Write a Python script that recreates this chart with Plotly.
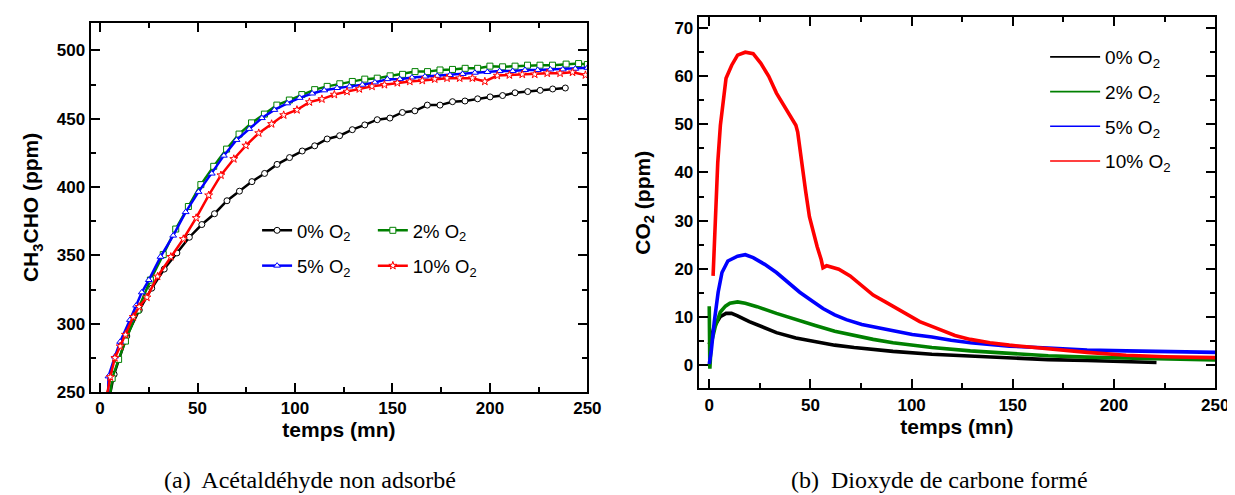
import plotly.graph_objects as go

# ---------------- Panel (a): CH3CHO (ppm) vs temps (mn) ----------------
t_a0 = [4.8, 7.2, 13.7, 20.1, 26.5, 32.9, 39.4, 45.8, 52.2, 58.7, 65.1, 71.5, 77.9, 84.4, 90.8, 97.2,
        103.7, 110.1, 116.5, 122.9, 129.4, 135.8, 142.2, 148.7, 155.1, 161.5, 167.9, 174.4, 180.8,
        187.2, 193.7, 200.1, 206.5, 212.9, 219.4, 225.8, 232.2, 238.7]
v_a0 = [246, 263, 291, 310, 326, 340, 351.8, 363.3, 372.6, 380.5, 390, 397, 404, 410, 416.6, 421.6,
        426.4, 430.2, 435.2, 437.6, 442, 445.5, 449.3, 450.5, 454.6, 455.8, 460, 460, 462.5,
        463, 464.6, 466, 467, 469, 469.9, 470.8, 471.8, 472.5]

t_a2 = [5.0, 6.2, 9.5, 13, 19.4, 25.8, 32.4, 38.8, 45.3, 51.7, 58.3, 64.9, 71.3, 77.7, 84.3, 90.7,
        97.1, 103.5, 110.1, 116.5, 123, 129.4, 135.8, 142.2, 148.8, 155.2, 161.6, 168, 174.4, 180.8,
        187.3, 193.7, 200, 206.5, 212.9, 219.3, 225.7, 232.1, 239.1, 245.5, 250]
v_a2 = [246, 260, 273.9, 287.3, 310, 332, 350.6, 369.3, 385.8, 401.8, 415.2, 427.8, 438.8, 447, 453.4, 460,
        463.7, 467.7, 471.3, 473.7, 475.6, 477.3, 479, 479.7, 481.4, 482.5, 484.5, 484.5, 485.7, 486.1,
        486.9, 486.9, 488.5, 488, 488.5, 489.2, 489.2, 489.2, 490, 490.4, 489.7]

t_a5 = [4.1, 4.3, 7.6, 10.3, 15.3, 18.5, 21.4, 25, 31, 37.5, 43.9, 50.5, 57.3, 63.5, 70, 76.5, 83,
        89.4, 96, 102.4, 108.8, 115, 121.6, 128, 134.6, 141, 147.4, 153.8, 160, 166.7, 173, 179.5,
        186, 192.3, 198.7, 205, 211.7, 218, 224.5, 231, 237.4, 243.8, 250]
v_a5 = [248, 261.5, 276, 286.8, 302.8, 313.3, 323, 332, 349, 364.5, 381.7, 396.5, 409.9, 423, 434.5,
        442.6, 450.5, 456.5, 461.3, 465.3, 468.5, 470.8, 472.5, 473.7, 474.9, 476.6, 479, 479, 480.2,
        480.9, 481.4, 482, 482.8, 483.7, 484.2, 484.9, 484.9, 485.7, 485.7, 486.1, 486.1, 486.6, 487.3]

t_a10 = [3.6, 5.2, 7.6, 10.3, 13, 17, 20, 24, 29.5, 36.3, 42.7, 49.3, 55.7, 62, 68.6, 74.8, 81.4, 88,
         94.2, 101, 107.4, 113.8, 120.2, 126.7, 133, 139.5, 145.9, 152.5, 158.9, 165.3, 171.7, 178,
         184.5, 191, 197.4, 203.8, 210, 216.6, 223, 229.4, 236, 242.4, 249]
v_a10 = [248, 261, 275, 283.5, 292, 305, 312.4, 319.3, 334.6, 349, 362, 377.4, 394, 408.7, 420.6, 430.4,
         439.5, 446.2, 452.7, 456.5, 462.2, 464.4, 467.7, 469.9, 471.8, 473.7, 474.9, 476.3, 477.3, 478,
         479, 479.7, 479.7, 479.7, 477.3, 481.6, 482, 482.5, 482.5, 483.3, 483.3, 484, 482]

# ---------------- Panel (b): CO2 (ppm) vs temps (mn) ----------------
t_b0 = [0, 2.5, 5.4, 8.3, 11, 14, 19.8, 25.5, 33.2, 42.8, 52.4, 62, 71.6, 90.8, 110, 129, 148.3,
        167.5, 186.7, 206, 221]
v_b0 = [4.3, 8, 10, 10.7, 10.7, 10.2, 9, 8, 6.7, 5.6, 4.8, 4.1, 3.6, 2.8, 2.2, 1.8, 1.4, 1.1, 0.9, 0.6, 0.5]

t_b2 = [0, 0.15, 0.3, 1.0, 3, 5.5, 8, 10.2, 14, 17.8, 23.6, 33.2, 42.8, 52.4, 62, 71.6, 81, 90.8,
        100.3, 110, 129, 148.3, 167.5, 186.7, 206, 225, 250]
v_b2 = [12.2, 3, -0.8, 4.5, 8, 11, 12.2, 12.8, 13.1, 12.8, 12.1, 10.7, 9.4, 8.2, 7, 6.1, 5.3, 4.6,
        4.1, 3.6, 2.9, 2.4, 1.9, 1.6, 1.4, 1.1, 1.0]

t_b5 = [0, 1, 2.5, 4.4, 6.3, 9.2, 14, 17.8, 21.7, 27.4, 33.2, 39, 44.7, 50.5, 56.2, 62, 67.7, 75.4,
        83, 90.8, 100.3, 110, 119.5, 129, 148.3, 167.5, 186.7, 206, 225, 250]
v_b5 = [0.2, 2.9, 9, 15.1, 19.2, 21.6, 22.6, 22.9, 22.3, 20.9, 19.2, 17.2, 15.1, 13.4, 11.7, 10.4,
        9.4, 8.4, 7.7, 7, 6.3, 5.8, 5.1, 4.6, 3.9, 3.5, 3.1, 2.9, 2.7, 2.6]

t_b10 = [1.9, 3.5, 4.2, 5.5, 6.7, 8.3, 11.1, 14, 17.8, 21.7, 25.5, 29.4, 33.2, 37, 40.9, 42.8, 43.7,
         45.7, 47.6, 49.5, 51.4, 53.3, 55.3, 56.2, 58, 64, 69.6, 75.4, 81, 87, 92.7, 98.4, 104, 110,
         115.7, 121.4, 129, 138.7, 148.3, 167.5, 186.7, 206, 225, 250]
v_b10 = [18.5, 36, 42, 49.8, 54.5, 59.6, 62.3, 64.4, 65, 64.7, 62.7, 60, 56.5, 53.8, 51.1, 49.8, 48.4,
         41.6, 36.2, 30.8, 27.4, 24.6, 21.9, 20.2, 20.6, 19.9, 18.5, 16.5, 14.5, 13.1, 11.7, 10.4, 9,
         8, 7, 6.1, 5.3, 4.6, 4.1, 3.3, 2.6, 2, 1.7, 1.5]

names = ["0% O<sub>2</sub>", "2% O<sub>2</sub>", "5% O<sub>2</sub>", "10% O<sub>2</sub>"]
colors = ["#000000", "#008000", "#0000FF", "#FF0000"]
symbols = ["circle", "square", "triangle-up", "star"]
caption_a = "(a)  Acétaldéhyde non adsorbé"
caption_b = "(b)  Dioxyde de carbone formé"

SANS = "Liberation Sans, Arial, sans-serif"
SERIF = "Liberation Serif, Times New Roman, serif"

fig = go.Figure()

series_a = [(t_a0, v_a0), (t_a2, v_a2), (t_a5, v_a5), (t_a10, v_a10)]
legends_a = ["legend", "legend2", "legend3", "legend4"]
for (t, v), nm, c, s, lg in zip(series_a, names, colors, symbols, legends_a):
    fig.add_trace(go.Scatter(
        x=t, y=v, mode="lines+markers", name=nm, legend=lg,
        line=dict(color=c, width=2.5),
        marker=dict(symbol=s, size=6, color="white", line=dict(color=c, width=1)),
        xaxis="x", yaxis="y", cliponaxis=True,
    ))

series_b = [(t_b0, v_b0), (t_b2, v_b2), (t_b5, v_b5), (t_b10, v_b10)]
for i, ((t, v), nm, c) in enumerate(zip(series_b, names, colors)):
    fig.add_trace(go.Scatter(
        x=t, y=v, mode="lines", name=nm, showlegend=False, legendgroup="g%d" % i,
        line=dict(color=c, width=3.6),
        xaxis="x2", yaxis="y2",
    ))
# legend entries for panel (b): thin lines as in the original legend
for i, (nm, c) in enumerate(zip(names, colors)):
    fig.add_trace(go.Scatter(
        x=[None], y=[None], mode="lines", name=nm, legend="legend5", legendgroup="g%d" % i,
        line=dict(color=c, width=1.6), xaxis="x2", yaxis="y2",
    ))

axis_common = dict(
    showline=True, linecolor="black", linewidth=2, mirror="allticks",
    ticks="inside", ticklen=9, tickwidth=1.8, tickcolor="black",
    showgrid=False, zeroline=False,
    tickfont=dict(family=SANS, size=17, color="black", weight="bold"),
)
minor_common = dict(ticks="inside", ticklen=5, tickwidth=1.8, tickcolor="black")
title_font = dict(family=SANS, size=21, weight="bold", color="black")
leg_font = dict(family=SANS, size=18.5, color="black")


def single_legend(x, y):
    return dict(orientation="v", x=x, y=y, xanchor="left", yanchor="top",
                bgcolor="rgba(0,0,0,0)", font=leg_font)


fig.update_layout(
    width=1235, height=495,
    margin=dict(l=0, r=0, t=0, b=0),
    paper_bgcolor="white", plot_bgcolor="white",
    font=dict(family=SANS, color="black"),
    xaxis=dict(domain=[0.0676, 0.4745], range=[-4.9, 250], dtick=50, tick0=0,
               minor=dict(dtick=25, **minor_common),
               title=dict(text="temps (mn)", font=title_font, standoff=5),
               anchor="y", **axis_common),
    yaxis=dict(domain=[0.2081, 0.9697], range=[250, 520.3], dtick=50, tick0=250,
               minor=dict(dtick=25, **minor_common),
               title=dict(text="CH<sub>3</sub>CHO (ppm)", font=title_font, standoff=12),
               anchor="x", **axis_common),
    xaxis2=dict(domain=[0.5657, 0.9887], range=[-5.2, 250], dtick=50, tick0=0,
                minor=dict(dtick=25, **minor_common),
                title=dict(text="temps (mn)", font=title_font, standoff=5),
                anchor="y2", **axis_common),
    yaxis2=dict(domain=[0.2156, 0.9812], range=[-4.9, 72.3], dtick=10, tick0=0,
                minor=dict(dtick=5, **minor_common),
                title=dict(text="CO<sub>2</sub> (ppm)", font=title_font, standoff=18),
                anchor="x2", **axis_common),
    legend=single_legend(0.204, 0.5798),
    legend2=single_legend(0.2988, 0.5798),
    legend3=single_legend(0.204, 0.507),
    legend4=single_legend(0.2988, 0.507),
    legend5=dict(orientation="v", x=0.8494, y=0.938, xanchor="left", yanchor="top",
                 itemwidth=50, tracegroupgap=7, bgcolor="rgba(0,0,0,0)",
                 font=dict(family=SANS, size=19, color="black")),
    annotations=[
        dict(text=caption_a, x=305 / 1235, y=1 - 482 / 495, xref="paper", yref="paper",
             xanchor="center", yanchor="middle", showarrow=False,
             font=dict(family=SERIF, size=24, color="black")),
        dict(text=caption_b, x=942 / 1235, y=1 - 482 / 495, xref="paper", yref="paper",
             xanchor="center", yanchor="middle", showarrow=False,
             font=dict(family=SERIF, size=24, color="black")),
    ],
)

fig.write_html("out.html")
